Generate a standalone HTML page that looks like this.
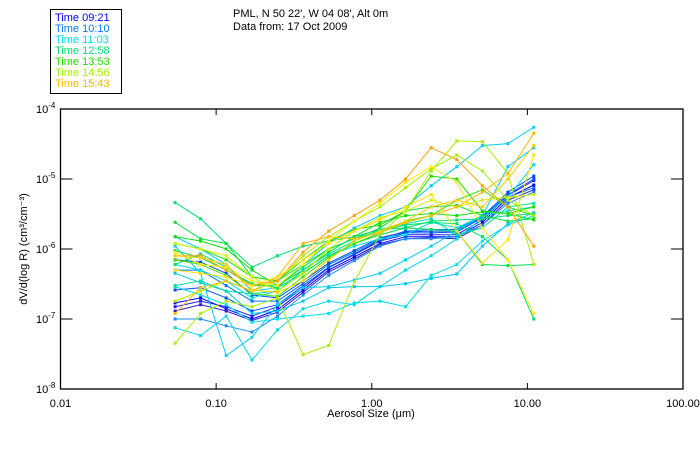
<!DOCTYPE html>
<html><head><meta charset="utf-8"><style>
body{margin:0;background:#fff;}
svg{display:block;font-family:"Liberation Sans",sans-serif;}
</style></head><body>
<svg id="chart" width="700" height="450" viewBox="0 0 700 450">
<rect x="0" y="0" width="700" height="450" fill="#fff"/>
<g>
<rect x="50.5" y="9.5" width="71" height="84" fill="none" stroke="#000" stroke-width="1"/>
<g id="legend-items" font-size="11"></g>
</g>
<text x="233" y="17" font-size="11">PML, N 50 22', W 04 08', Alt 0m</text>
<text x="233" y="30" font-size="11">Data from: 17 Oct 2009</text>
<g id="series"></g>
<g id="axes"></g>
<text x="371" y="417" font-size="11" text-anchor="middle">Aerosol Size (μm)</text>
<text transform="translate(27,249) rotate(-90)" font-size="11" text-anchor="middle">dV/d(log R) (cm³/cm⁻³)</text>
</svg>
<script>
const sizes=[0.0545,0.0795,0.116,0.170,0.248,0.362,0.529,0.772,1.13,1.65,2.41,3.52,5.14,7.50,11.0];
const xTicks=[0.01,0.1,1,10,100];
const xTickLabels=["0.01","0.10","1.00","10.00","100.00"];
const yTicks=[1e-4,1e-5,1e-6,1e-7,1e-8];
const yTickExps=["-4","-5","-6","-7","-8"];
const legendLabels=["Time 09:21","Time 10:10","Time 11:03","Time 12:58","Time 13:53","Time 14:56","Time 15:43"];
const legendColors=["#0000ff","#0a7aff","#00e0f0","#00e070","#20e000","#a8f000","#ffbb00"];
const seriesColors=["#0000ff","#2020f0","#3020d0","#0050ff","#0070ff","#1a8cff","#0050e0",
"#00d8f0","#00d0ff","#00e0f0","#00c8f0","#00ccff","#00e0e0",
"#00e070","#10e040","#10e010","#00e070","#00e050","#40e000","#00e0a0","#20e000",
"#a8f000","#a8f000","#d0f000",
"#ffbb00","#ffa000","#ffee00","#ffe000","#ffd000"];
const seriesValues=[
[1.7e-7,2.0e-7,1.4e-7,1.0e-7,1.35e-7,2.6e-7,5.0e-7,7.7e-7,1.2e-6,1.5e-6,1.5e-6,1.5e-6,2.4e-6,5.4e-6,8.2e-6],
[1.5e-7,1.8e-7,1.5e-7,1.1e-7,1.5e-7,2.8e-7,5.4e-7,8.3e-7,1.3e-6,1.6e-6,1.6e-6,1.6e-6,2.6e-6,5.8e-6,9.5e-6],
[1.3e-7,1.6e-7,1.3e-7,9.5e-8,1.25e-7,2.4e-7,4.7e-7,7.2e-7,1.15e-6,1.4e-6,1.45e-6,1.4e-6,2.2e-6,5.0e-6,7.0e-6],
[2.6e-7,2.8e-7,2.0e-7,1.3e-7,1.6e-7,3.0e-7,5.5e-7,8.5e-7,1.35e-6,1.7e-6,1.7e-6,1.75e-6,2.8e-6,6.0e-6,1.0e-5],
[5.0e-7,5.0e-7,3.0e-7,1.8e-7,1.8e-7,3.2e-7,6.0e-7,9.0e-7,1.4e-6,1.8e-6,1.9e-6,1.9e-6,3.0e-6,5.5e-6,7.5e-6],
[1.0e-7,1.0e-7,8.0e-8,6.5e-8,1.1e-7,2.2e-7,4.2e-7,6.8e-7,1.1e-6,1.4e-6,1.4e-6,1.5e-6,2.2e-6,4.5e-6,6.5e-6],
[7.0e-7,6.5e-7,4.5e-7,2.2e-7,2.0e-7,3.5e-7,6.3e-7,9.5e-7,1.45e-6,1.75e-6,1.8e-6,1.8e-6,2.9e-6,6.5e-6,1.1e-5],
[7.5e-8,5.8e-8,1.1e-7,2.6e-8,7.0e-8,1.4e-7,1.8e-7,1.6e-7,2.9e-7,5.0e-7,8.0e-7,1.4e-6,2.8e-6,5.5e-6,1.6e-5],
[1.1e-6,4.5e-7,3.0e-8,5.5e-8,1.6e-7,2.8e-7,2.9e-7,3.6e-7,4.5e-7,7.0e-7,1.1e-6,1.8e-6,3.0e-6,1.5e-5,2.8e-5],
[2.9e-7,2.2e-7,1.6e-7,9.0e-8,1.0e-7,1.1e-7,1.2e-7,1.7e-7,1.8e-7,1.5e-7,4.2e-7,6.0e-7,1.3e-6,2.2e-6,3.0e-6],
[4.5e-7,3.3e-7,2.5e-7,1.2e-7,1.3e-7,1.8e-7,2.8e-7,2.9e-7,2.9e-7,3.2e-7,3.8e-7,4.4e-7,1.1e-6,2.3e-6,3.3e-6],
[1.5e-6,1.0e-6,6.0e-7,2.5e-7,2.8e-7,6.0e-7,1.2e-6,2.0e-6,3.0e-6,4.0e-6,8.0e-6,1.5e-5,3.0e-5,3.2e-5,5.5e-5],
[6.0e-7,5.0e-7,3.5e-7,2.0e-7,2.5e-7,4.5e-7,8.0e-7,1.1e-6,1.4e-6,1.6e-6,2.4e-6,2.0e-6,3.0e-6,3.5e-6,4.0e-6],
[4.6e-6,2.7e-6,1.2e-6,5.5e-7,8.0e-7,1.1e-6,1.3e-6,1.5e-6,1.9e-6,2.0e-6,2.5e-6,2.6e-6,2.7e-6,3.0e-6,3.2e-6],
[2.4e-6,1.4e-6,1.2e-6,4.0e-7,3.5e-7,6.0e-7,1.0e-6,1.4e-6,2.0e-6,3.5e-6,4.0e-6,4.2e-6,3.0e-6,2.5e-6,2.7e-6],
[1.5e-6,1.3e-6,1.0e-6,5.0e-7,3.0e-7,5.0e-7,9.0e-7,1.5e-6,2.4e-6,3.0e-6,3.2e-6,3.0e-6,3.4e-6,3.2e-6,2.6e-6],
[6.0e-7,8.5e-7,5.5e-7,3.0e-7,3.0e-7,5.5e-7,1.0e-6,1.4e-6,1.8e-6,2.2e-6,2.4e-6,2.3e-6,1.5e-6,7.0e-7,1.0e-7],
[9.5e-7,7.5e-7,5.0e-7,3.2e-7,2.8e-7,4.5e-7,8.0e-7,1.2e-6,1.6e-6,2.0e-6,1.9e-6,1.8e-6,6.0e-7,5.8e-7,6.0e-7],
[7.0e-7,6.0e-7,4.2e-7,2.3e-7,2.1e-7,4.0e-7,7.5e-7,1.2e-6,1.7e-6,2.5e-6,3.0e-6,5.0e-6,7.0e-6,4.0e-6,3.0e-6],
[3.0e-7,3.5e-7,2.5e-7,2.3e-7,2.5e-7,5.0e-7,8.5e-7,1.3e-6,1.9e-6,2.3e-6,2.7e-6,1.6e-6,2.0e-6,4.0e-6,4.5e-6],
[1.2e-6,1.0e-6,7.0e-7,4.0e-7,3.5e-7,7.0e-7,1.3e-6,1.9e-6,2.2e-6,3.5e-6,1.1e-5,1.0e-5,3.5e-6,3.2e-6,4.0e-6],
[4.5e-8,1.2e-7,1.8e-7,1.5e-7,2.0e-7,3.1e-8,4.2e-8,3.4e-7,1.6e-6,3.5e-6,1.3e-5,3.5e-5,3.4e-5,1.2e-5,6.0e-7],
[1.8e-7,2.5e-7,3.5e-7,2.5e-7,3.5e-7,8.0e-7,1.5e-6,2.5e-6,4.0e-6,7.5e-6,1.4e-5,2.2e-5,1.3e-5,5.0e-6,3.0e-6],
[1.2e-6,1.0e-6,8.0e-7,4.0e-7,2.5e-7,4.5e-7,1.0e-6,1.8e-6,2.8e-6,3.5e-6,5.0e-6,4.0e-6,5.0e-6,5.5e-6,6.0e-6],
[1.2e-7,2.8e-7,3.5e-7,2.5e-7,4.0e-7,1.2e-6,1.5e-6,1.4e-6,1.7e-6,2.4e-6,3.0e-6,4.0e-6,6.5e-6,1.2e-5,4.5e-5],
[8.0e-7,8.0e-7,5.0e-7,3.0e-7,3.5e-7,9.0e-7,1.8e-6,3.0e-6,5.0e-6,1.0e-5,2.8e-5,1.9e-5,8.0e-6,4.0e-6,1.1e-6],
[9.0e-7,6.0e-7,5.5e-7,3.5e-7,3.0e-7,6.0e-7,1.3e-6,2.5e-6,4.5e-6,9.0e-6,1.5e-5,9.0e-6,2.0e-6,7.0e-7,1.2e-7],
[5.0e-7,4.5e-7,4.0e-7,3.0e-7,4.0e-7,7.0e-7,1.2e-6,1.8e-6,2.6e-6,4.0e-6,6.0e-6,1.8e-6,6.3e-7,1.35e-6,2.2e-5],
[8.0e-7,7.5e-7,6.0e-7,2.6e-7,2.4e-7,3.5e-7,7.0e-7,1.3e-6,1.8e-6,2.5e-6,4.0e-6,5.0e-6,4.0e-6,1.0e-5,3.0e-5]
];
const NS="http://www.w3.org/2000/svg";
const X0=60.5,X1=683,Y0=389,Y1=109;
const xMin=-2,xMax=2,yMin=-8,yMax=-4;
function xs(v){return X0+(Math.log10(v)-xMin)/(xMax-xMin)*(X1-X0);}
function ys(v){return Y0-(Math.log10(v)-yMin)/(yMax-yMin)*(Y0-Y1);}
function mk(tag,attrs,parent){const e=document.createElementNS(NS,tag);for(const k in attrs)e.setAttribute(k,attrs[k]);parent.appendChild(e);return e;}
const leg=document.getElementById('legend-items');
legendLabels.forEach((t,i)=>{
  const e=mk('text',{x:55,y:21+i*11,fill:legendColors[i]},leg);
  e.textContent=t;
  
  
});
const sg=document.getElementById('series');
seriesValues.forEach((vals,si)=>{
  const g=mk('g',{},sg);
  
  
  const pts=vals.map((v,i)=>xs(sizes[i]).toFixed(1)+','+ys(v).toFixed(1)).join(' ');
  mk('polyline',{points:pts,fill:'none',stroke:seriesColors[si],'stroke-width':1},g);
  vals.forEach((v,i)=>{
    const r=mk('rect',{x:xs(sizes[i])-1.5,y:ys(v)-1.5,width:3,height:3,fill:seriesColors[si]},g);
    
    
  });
});
const ax=document.getElementById('axes');
const frame=mk('rect',{x:X0,y:Y1,width:X1-X0,height:Y0-Y1,fill:'none',stroke:'#000','stroke-width':1.3},ax);


xTicks.forEach((t,i)=>{
  const x=xs(t);
  mk('line',{x1:x,y1:Y0,x2:x,y2:Y0-6,stroke:'#000'},ax);
  mk('line',{x1:x,y1:Y1,x2:x,y2:Y1+6,stroke:'#000'},ax);
  const l=mk('text',{x:x,y:Y0+18,'font-size':11,'text-anchor':'middle'},ax);
  l.textContent=xTickLabels[i];
  
  
});
yTicks.forEach((t,i)=>{
  const y=ys(t);
  mk('line',{x1:X0,y1:y,x2:X0+12,y2:y,stroke:'#000'},ax);
  mk('line',{x1:X1,y1:y,x2:X1-12,y2:y,stroke:'#000'},ax);
  const l=mk('text',{x:36,y:y+4,'font-size':11},ax);
  
  
  const a=mk('tspan',{},l);a.textContent='10';
  const b=mk('tspan',{dy:-5,'font-size':8},l);b.textContent=yTickExps[i];
});
</script>
</body></html>
